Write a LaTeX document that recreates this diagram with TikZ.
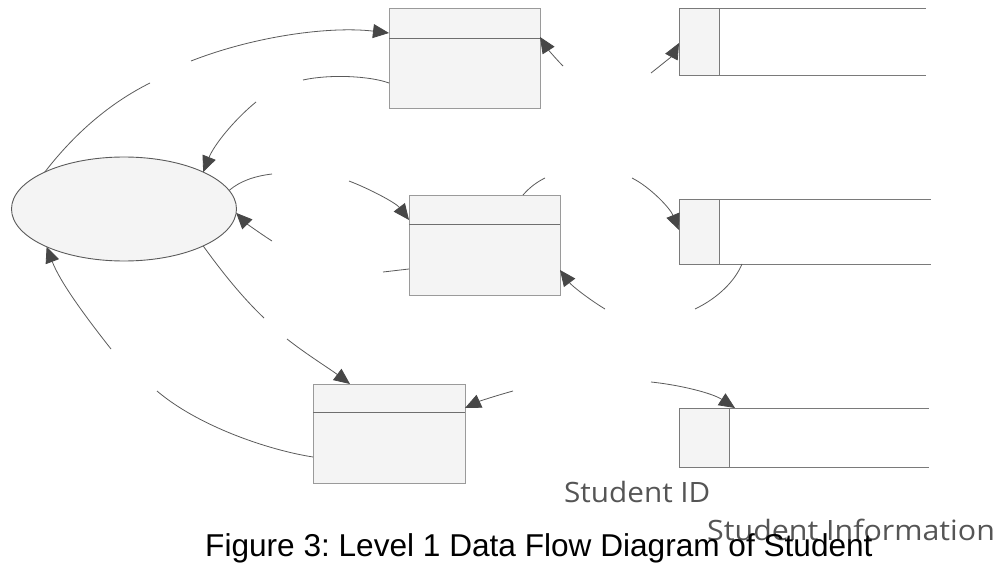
\documentclass[tikz,border=0pt]{standalone}
\usepackage{fontspec}
\setmainfont{Liberation Sans}
\newfontfamily\uifont{Open Sans}
\usetikzlibrary{arrows.meta,shapes.geometric,calc}
\definecolor{edge}{HTML}{5A5A5A}
\definecolor{headc}{HTML}{474747}
\definecolor{boxline}{HTML}{9A9A9A}
\definecolor{divline}{HTML}{6E6E6E}
\definecolor{storeline}{HTML}{7A7A7A}
\definecolor{paper}{HTML}{F4F4F4}
\definecolor{labelc}{HTML}{555555}

\begin{document}
\frenchspacing
\begin{tikzpicture}[x=1pt,y=-1pt,
  flow/.style={draw=edge, line width=0.8pt},
  flowarrow/.style={flow, -{Triangle[length=16pt,width=14pt,color=headc,fill=headc]}},
  procbox/.style={draw=boxline, fill=paper, line width=0.9pt, inner sep=0pt,
    outer sep=0pt, minimum width=151pt, minimum height=100pt, anchor=north west},
  proc/.style={ellipse, draw=edge, fill=paper, line width=0.9pt, inner sep=0pt,
    outer sep=0pt, minimum width=225pt, minimum height=104pt},
  storetab/.style={draw=storeline, fill=paper, line width=0.9pt, inner sep=0pt,
    outer sep=0pt, anchor=north west},
  storeedge/.style={draw=storeline, line width=0.9pt},
  divider/.style={draw=divline, line width=0.9pt},
  uilabel/.style={anchor=base west, inner sep=0pt, text=labelc, font=\uifont\fontsize{28}{30}\selectfont},
  caption/.style={anchor=base west, inner sep=0pt, text=black, font=\fontsize{31.6}{34}\selectfont}
]
\useasboundingbox (0,0) rectangle (1002,567);

% process and boxes
\node[proc] (p) at (124,209) {};
\node[procbox] (b1) at (389,8) {};
\node[procbox] (b2) at (409,195) {};
\node[procbox, minimum width=152pt, minimum height=99pt] (b3) at (313,384) {};
\draw[divider] ($(b1.north west)+(0,30)$) -- ($(b1.north east)+(0,30)$);
\draw[divider] ($(b2.north west)+(0,29)$) -- ($(b2.north east)+(0,29)$);
\draw[divider] ($(b3.north west)+(0,28)$) -- ($(b3.north east)+(0,28)$);

% open-ended data stores
\node[storetab, minimum width=40pt, minimum height=67pt] (s1) at (679,8) {};
\node[storetab, minimum width=40pt, minimum height=65pt] (s2) at (679,199) {};
\node[storetab, minimum width=50pt, minimum height=59pt] (s3) at (679,408) {};
\draw[storeedge] (s1.north west) -- ($(s1.north west)+(247,0)$);
\draw[storeedge] (s1.south west) -- ($(s1.south west)+(247,0)$);
\draw[storeedge] (s2.north west) -- ($(s2.north west)+(252,0)$);
\draw[storeedge] (s2.south west) -- ($(s2.south west)+(252,0)$);
\draw[storeedge] (s3.north west) -- ($(s3.north west)+(250,0)$);
\draw[storeedge] (s3.south west) -- ($(s3.south west)+(250,0)$);

% loose ends of the flows
\coordinate (fa) at (191,61);
\coordinate (fb) at (303,80);
\coordinate (fc) at (150,83);
\coordinate (fd) at (256,102);
\coordinate (fe) at (272,174);
\coordinate (ff) at (349,181);
\coordinate (fg) at (272,241);
\coordinate (fh) at (264,318);
\coordinate (fi) at (287,339);
\coordinate (fj) at (111,349);
\coordinate (fk) at (157,391);
\coordinate (fl) at (513,391);
\coordinate (fm) at (383,272);
\coordinate (fn) at (545,178);
\coordinate (fo) at (605,309);
\coordinate (fp) at (695,309);
\coordinate (fq) at (632,178);
\coordinate (fr) at (651,73);
\coordinate (fs) at (563,66);
\coordinate (ft) at (651,382);

% flows around the top box
\draw[flowarrow] (fa) .. controls (255,36) and (330,26) .. ($(b1.north west)+(0,25)$);
\draw[flow] ($(b1.north west)+(0,75)$) .. controls (370,76) and (330,74) .. (fb);
\draw[flowarrow] (fs) .. controls (555,58) and (547,48) .. ($(b1.north east)+(0,29)$);
\draw[flowarrow] (fr) .. controls (660,66) and (672,56) .. ($(s1.north west)+(0,35)$);

% flows around the process
\draw[flow] (p.155) .. controls (75,133) and (110,103) .. (fc);
\draw[flowarrow] (fd) .. controls (234,120) and (214,145) .. (p.25);
\draw[flow] (p.10) .. controls (240,181) and (255,176) .. (fe);
\draw[flowarrow] (fg) .. controls (258,232) and (246,223) .. (p.-2);
\draw[flow] (p.-25) .. controls (222,272) and (242,297) .. (fh);
\draw[flowarrow] (fj) .. controls (85,316) and (60,282) .. (p.206);

% flows around the middle box
\draw[flowarrow] (ff) .. controls (370,189) and (396,203) .. ($(b2.north west)+(0,25)$);
\draw[flow] ($(b2.north west)+(0,74)$) .. controls (400,270) and (392,271) .. (fm);
\draw[flow] ($(b2.north west)+(114,0)$) .. controls (530,187) and (537,182) .. (fn);
\draw[flowarrow] (fo) .. controls (590,300) and (572,286) .. ($(b2.north east)+(0,75)$);
\draw[flowarrow] (fq) .. controls (650,187) and (670,208) .. ($(s2.north west)+(0,31)$);
\draw[flow] ($(s2.south west)+(63,0)$) .. controls (735,281) and (718,298) .. (fp);

% flows around the bottom box
\draw[flowarrow] (fi) .. controls (306,354) and (330,369) .. ($(b3.north west)+(37,0)$);
\draw[flow] ($(b3.north west)+(0,73)$) .. controls (268,450) and (198,426) .. (fk);
\draw[flowarrow] (fl) .. controls (495,396) and (480,401) .. ($(b3.north east)+(0,24)$);
\draw[flowarrow] (ft) .. controls (680,385) and (712,393) .. ($(s3.north west)+(56,0)$);

% labels
\node[uilabel] (lid) at (564,502) {\scalebox{1.06}[1]{Student ID}};
\node[uilabel] (linfo) at (707,540) {\scalebox{1.085}[1]{Student Information}};
\node[caption] (cap) at (205,556) {Figure 3: Level 1 Data Flow Diagram of Student};
\end{tikzpicture}
\end{document}
